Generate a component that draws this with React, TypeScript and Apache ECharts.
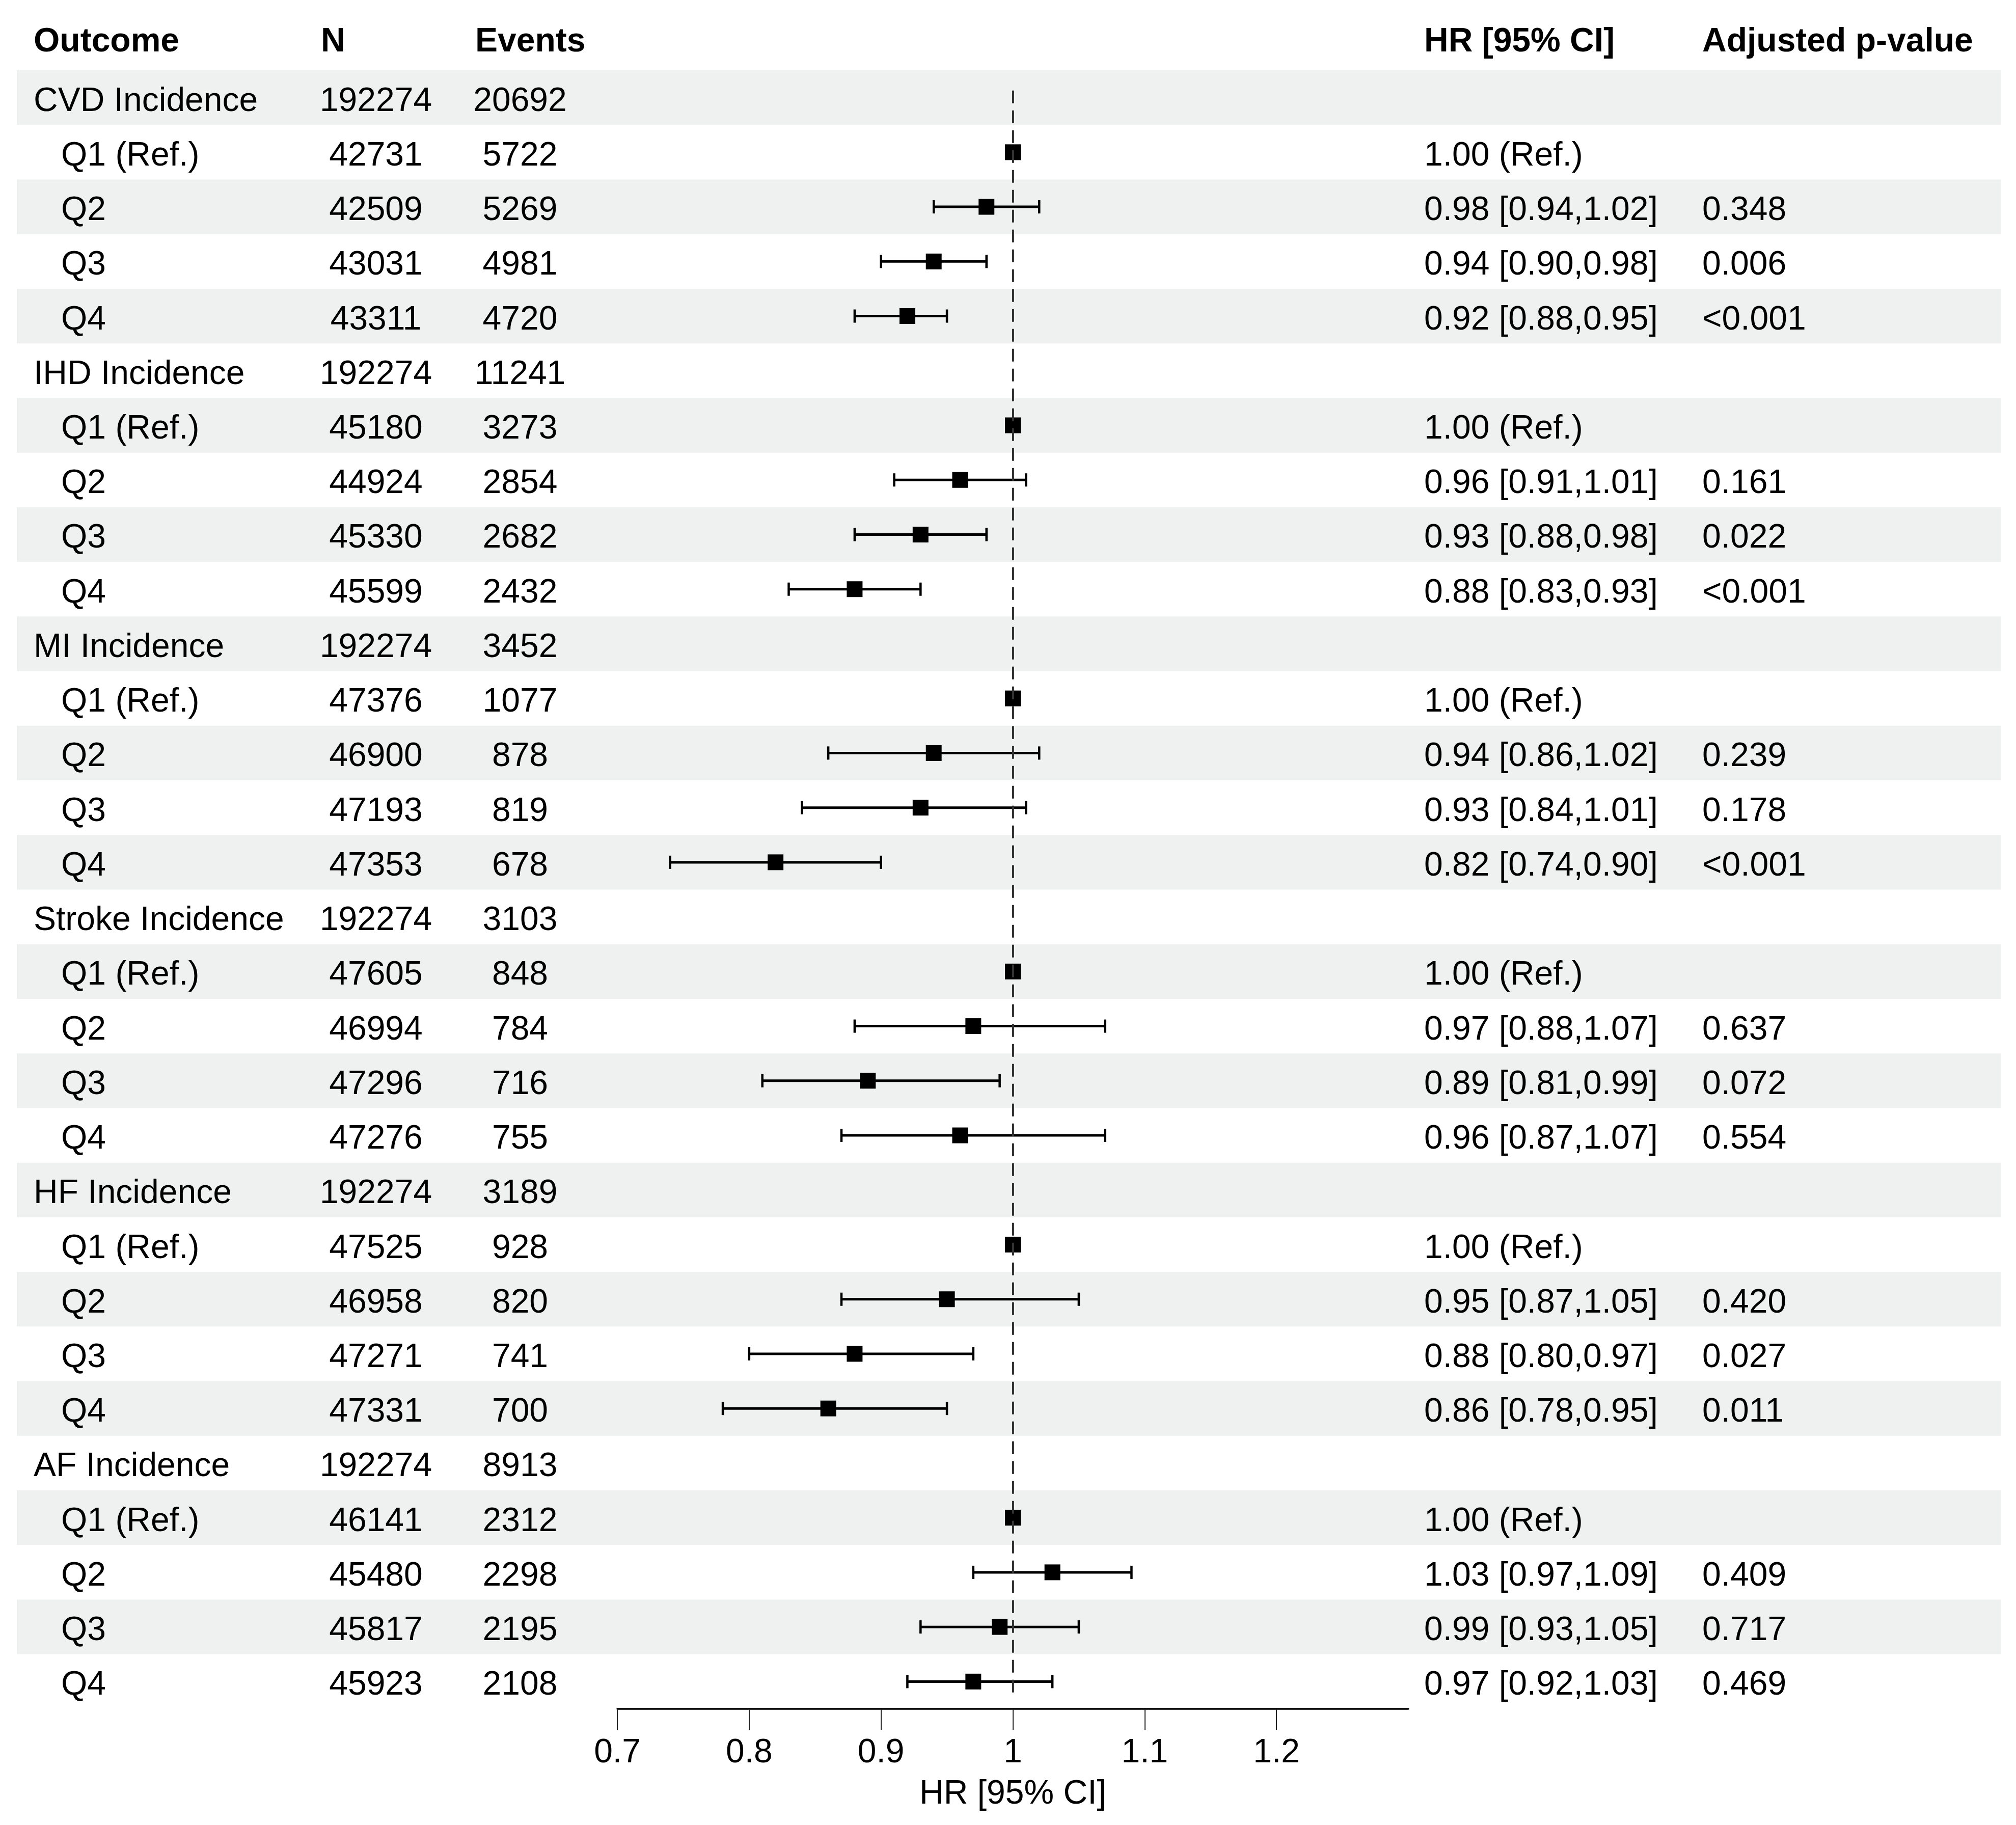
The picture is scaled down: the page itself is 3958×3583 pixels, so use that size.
import React, { useEffect, useRef } from "react";
import * as echarts from "echarts";

// ---------- data ----------
const outcomes = ["CVD Incidence", "IHD Incidence", "MI Incidence", "Stroke Incidence", "HF Incidence", "AF Incidence"];
const outcomeN = [192274, 192274, 192274, 192274, 192274, 192274];
const outcomeEvents = [20692, 11241, 3452, 3103, 3189, 8913];
const quartiles = ["Q1 (Ref.)", "Q2", "Q3", "Q4"];
const quartileN = [
  [42731, 42509, 43031, 43311],
  [45180, 44924, 45330, 45599],
  [47376, 46900, 47193, 47353],
  [47605, 46994, 47296, 47276],
  [47525, 46958, 47271, 47331],
  [46141, 45480, 45817, 45923],
];
const quartileEvents = [
  [5722, 5269, 4981, 4720],
  [3273, 2854, 2682, 2432],
  [1077, 878, 819, 678],
  [848, 784, 716, 755],
  [928, 820, 741, 700],
  [2312, 2298, 2195, 2108],
];
// HR for Q2..Q4 (Q1 is the reference, 1.00)
const hrQ = [
  [0.98, 0.94, 0.92],
  [0.96, 0.93, 0.88],
  [0.94, 0.93, 0.82],
  [0.97, 0.89, 0.96],
  [0.95, 0.88, 0.86],
  [1.03, 0.99, 0.97],
];
const loQ = [
  [0.94, 0.9, 0.88],
  [0.91, 0.88, 0.83],
  [0.86, 0.84, 0.74],
  [0.88, 0.81, 0.87],
  [0.87, 0.8, 0.78],
  [0.97, 0.93, 0.92],
];
const hiQ = [
  [1.02, 0.98, 0.95],
  [1.01, 0.98, 0.93],
  [1.02, 1.01, 0.9],
  [1.07, 0.99, 1.07],
  [1.05, 0.97, 0.95],
  [1.09, 1.05, 1.03],
];
const pQ = [
  ["0.348", "0.006", "<0.001"],
  ["0.161", "0.022", "<0.001"],
  ["0.239", "0.178", "<0.001"],
  ["0.637", "0.072", "0.554"],
  ["0.420", "0.027", "0.011"],
  ["0.409", "0.717", "0.469"],
];
const headers = ["Outcome", "N", "Events", "HR [95% CI]", "Adjusted p-value"];
const axisTicks = [0.7, 0.8, 0.9, 1, 1.1, 1.2];
const axisTitle = "HR [95% CI]";
const refValue = 1;

// ---------- layout ----------
const W = 3958;
const H = 3583;
const FONT = "'Liberation Sans', Arial, Helvetica, sans-serif";
const FS = 66;
const TABLE_LEFT = 33;
const TABLE_RIGHT = 3928;
const GRID_TOP = 138;
const GRID_H = 3217;
const PLOT_LEFT = 1212;
const PLOT_RIGHT = 2765;
const X_OUT = 66;
const X_SUB = 120;
const X_N = 738;
const X_EV = 1021;
const X_HR = 2796;
const X_P = 3342;
const HEADER_X = [66, 630, 933, 2796, 3342];
const HEADER_Y = 78;
const TEXT_DY = 3;

type Row = {
  label: string;
  sub: boolean;
  n: number;
  ev: number;
  hr: number | null;
  lo: number | null;
  hi: number | null;
  hrText: string;
  p: string;
};

function buildRows(): Row[] {
  const rows: Row[] = [];
  outcomes.forEach((o, k) => {
    rows.push({ label: o, sub: false, n: outcomeN[k], ev: outcomeEvents[k], hr: null, lo: null, hi: null, hrText: "", p: "" });
    quartiles.forEach((q, j) => {
      if (j === 0) {
        rows.push({ label: q, sub: true, n: quartileN[k][j], ev: quartileEvents[k][j], hr: 1, lo: 1, hi: 1, hrText: "1.00 (Ref.)", p: "" });
      } else {
        const hr = hrQ[k][j - 1];
        const lo = loQ[k][j - 1];
        const hi = hiQ[k][j - 1];
        rows.push({
          label: q,
          sub: true,
          n: quartileN[k][j],
          ev: quartileEvents[k][j],
          hr,
          lo,
          hi,
          hrText: `${hr.toFixed(2)} [${lo.toFixed(2)},${hi.toFixed(2)}]`,
          p: pQ[k][j - 1],
        });
      }
    });
  });
  return rows;
}

export default function App() {
  const ref = useRef<HTMLDivElement>(null);
  useEffect(() => {
    if (!ref.current) return;
    const chart = echarts.init(ref.current, undefined, { renderer: "svg", width: W, height: H });
    const rows = buildRows();
    const nRows = rows.length;
    const textStyle = (text: string, x: number, y: number, align: string, bold = false) => ({
      type: "text",
      style: {
        text,
        x,
        y,
        align,
        verticalAlign: "middle",
        fontSize: FS,
        fontFamily: FONT,
        fontWeight: bold ? "bold" : "normal",
        fill: "#000",
      },
    });

    const option: any = {
      animation: false,
      backgroundColor: "#ffffff",
      grid: [
        { left: TABLE_LEFT, top: GRID_TOP, width: TABLE_RIGHT - TABLE_LEFT, height: GRID_H, containLabel: false },
        { left: PLOT_LEFT, top: GRID_TOP, width: PLOT_RIGHT - PLOT_LEFT, height: GRID_H, containLabel: false },
      ],
      xAxis: [
        { type: "value", gridIndex: 0, min: 0, max: 1, show: false },
        {
          type: "value",
          gridIndex: 1,
          min: 0.7,
          max: 1.3,
          position: "bottom",
          axisLine: { show: true, onZero: false, lineStyle: { color: "#000", width: 3.5 } },
          axisTick: { show: true, customValues: axisTicks, length: 41, lineStyle: { color: "#222", width: 2 } },
          axisLabel: { show: true, customValues: axisTicks, margin: 49, fontSize: FS, fontFamily: FONT, color: "#000" },
          splitLine: { show: false },
          name: axisTitle,
          nameLocation: "middle",
          nameGap: 130,
          nameTextStyle: { fontSize: FS, fontFamily: FONT, color: "#000" },
        },
      ],
      yAxis: [
        { type: "value", gridIndex: 0, min: -0.5, max: nRows - 0.5, inverse: true, show: false },
        { type: "value", gridIndex: 1, min: -0.5, max: nRows - 0.5, inverse: true, show: false },
      ],
      graphic: headers.map((h, i) => ({
        type: "text",
        x: HEADER_X[i],
        y: HEADER_Y,
        style: {
          text: h,
          align: "left",
          verticalAlign: "middle",
          fontSize: FS,
          fontFamily: FONT,
          fontWeight: "bold",
          fill: "#000",
        },
      })),
      series: [
        {
          type: "custom",
          name: "bands",
          xAxisIndex: 0,
          yAxisIndex: 0,
          z: 1,
          silent: true,
          data: rows.map((_, i) => [0.5, i]).filter((d) => d[1] % 2 === 0),
          renderItem: (params: any, api: any) => {
            const i = api.value(1);
            const p0 = api.coord([0, i - 0.5]);
            const p1 = api.coord([1, i + 0.5]);
            return {
              type: "rect",
              shape: { x: p0[0], y: p0[1], width: p1[0] - p0[0], height: p1[1] - p0[1] },
              style: { fill: "#eef1f0" },
            };
          },
        },
        {
          type: "custom",
          name: "table",
          xAxisIndex: 0,
          yAxisIndex: 0,
          z: 2,
          silent: true,
          data: rows.map((_, i) => [0.5, i]),
          renderItem: (params: any, api: any) => {
            const i = api.value(1);
            const r = rows[i];
            const y = api.coord([0, i])[1] + TEXT_DY;
            const children: any[] = [
              textStyle(r.label, r.sub ? X_SUB : X_OUT, y, "left"),
              textStyle(String(r.n), X_N, y, "center"),
              textStyle(String(r.ev), X_EV, y, "center"),
            ];
            if (r.hrText) children.push(textStyle(r.hrText, X_HR, y, "left"));
            if (r.p) children.push(textStyle(r.p, X_P, y, "left"));
            return { type: "group", children };
          },
        },
        {
          type: "custom",
          name: "forest",
          xAxisIndex: 1,
          yAxisIndex: 1,
          z: 3,
          silent: true,
          data: rows
            .map((r, i) => (r.hr === null ? null : [r.hr, i, r.lo, r.hi]))
            .filter((d) => d !== null),
          renderItem: (params: any, api: any) => {
            const hr = api.value(0);
            const i = api.value(1);
            const lo = api.value(2);
            const hi = api.value(3);
            const c = api.coord([hr, i]);
            const l = api.coord([lo, i]);
            const h = api.coord([hi, i]);
            const children: any[] = [];
            if (hi !== lo) {
              children.push({
                type: "line",
                shape: { x1: l[0], y1: c[1], x2: h[0], y2: c[1] },
                style: { stroke: "#000", lineWidth: 5 },
              });
              children.push({
                type: "line",
                shape: { x1: l[0], y1: c[1] - 13, x2: l[0], y2: c[1] + 13 },
                style: { stroke: "#000", lineWidth: 4.5 },
              });
              children.push({
                type: "line",
                shape: { x1: h[0], y1: c[1] - 13, x2: h[0], y2: c[1] + 13 },
                style: { stroke: "#000", lineWidth: 4.5 },
              });
            }
            children.push({
              type: "rect",
              shape: { x: c[0] - 15.5, y: c[1] - 15.5, width: 31, height: 31 },
              style: { fill: "#000" },
            });
            return { type: "group", children };
          },
        },
        {
          type: "line",
          name: "ref",
          xAxisIndex: 1,
          yAxisIndex: 1,
          z: 5,
          data: [],
          markLine: {
            silent: true,
            symbol: ["none", "none"],
            label: { show: false },
            lineStyle: { type: [25, 14], width: 4, color: "#333" },
            data: [[{ coord: [refValue, -0.13] }, { coord: [refValue, nRows - 0.79] }]],
          },
        },
      ],
    };
    chart.setOption(option);
    return () => chart.dispose();
  }, []);
  return <div ref={ref} style={{ position: "absolute", left: 0, top: 0, width: W, height: H, background: "#fff" }} />;
}
